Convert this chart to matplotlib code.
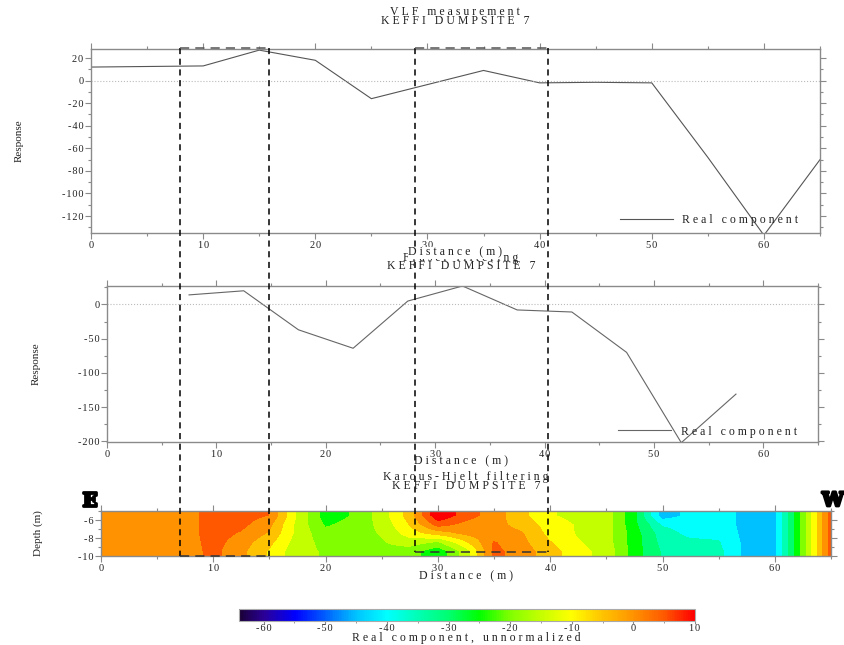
import numpy as np
import matplotlib
matplotlib.use("Agg")
import matplotlib.pyplot as plt
from matplotlib.colors import LinearSegmentedColormap, ListedColormap, BoundaryNorm, Normalize
from matplotlib.lines import Line2D
from matplotlib.ticker import MultipleLocator, FuncFormatter
from matplotlib.transforms import blended_transform_factory
import matplotlib.patheffects as pe
import matplotlib.cm as cm

plt.rcParams['font.family'] = ['Liberation Serif', 'DejaVu Serif']
plt.rcParams['axes.unicode_minus'] = False

# --- VLF raw real component ---
vlf_x = [0, 5, 10, 15, 20, 25, 30, 35, 40, 45, 50, 55, 60, 65]
vlf_real = [12, 12.5, 13, 27, 18, -16, -3.5, 9, -2, -1.5, -2, -68, -137, -70]

# --- Fraser filtered ---
fraser_x = [7.5, 12.5, 17.5, 22.5, 27.5, 32.5, 37.5, 42.5, 47.5, 52.5, 57.5]
fraser_real = [14, 20, -37, -64, 5, 27, -8, -11, -70, -202, -131]

# --- Karous-Hjelt section, nodes every 2.5 m from 0 to 65 m ---
kh_x0, kh_dx = 0, 2.5
kh_d55 = [0, 0, 0, 0, 5, 5, 2.5, -13, -25, -22, -15, -5, 12, 5, 0,
          -6, -12, -14, -15, -26, -45, -41, -40, -44, -44, -20, 5]
kh_d65 = [0, 0, 0, 0, 5, 4, -1, -14, -23, -21, -16, -7, 5, 1, -1,
          -4, -10, -13, -15, -26, -38, -40, -40, -44, -44, -20, 5]
kh_d75 = [0, 0, 0, 0, 5, 2, -3, -14, -21, -20, -17, -10, -5, -1, 0,
          -2, -9, -13, -15, -25, -35, -39, -39, -44, -44, -20, 5]
kh_d85 = [0, 0, 0, 0, 4.5, 0, -6, -15, -19, -19, -18, -15, -18, -8, 3,
          -1, -7, -12, -15, -25, -34, -36, -37, -44, -44, -20, 5]
kh_d95 = [0, 0, 0, 0, 4, -1, -8, -16, -18, -18, -19, -20, -26, -15, 4,
          0, -5, -11, -14, -25, -33, -34, -36, -44, -44, -20, 5]

# anomaly boxes (metres along profile)
boxes = [(7, 15), (28, 39.8)]

cmap_pts = [(-64, '#1a0036'), (-60, '#2a0098'), (-55, '#0000ff'), (-50, '#0060ff'),
            (-45, '#00c4ff'), (-40, '#00ffff'), (-35, '#00ffb4'), (-30, '#00ff70'),
            (-25, '#00ff00'), (-20, '#80ff00'), (-15, '#c4ff00'), (-10, '#ffff00'),
            (-5, '#ffc400'), (0, '#ff9400'), (5, '#ff5a00'), (10, '#ff0000')]
vmin, vmax = -64, 10
kh_cmap = LinearSegmentedColormap.from_list(
    'kh', [((v - vmin) / (vmax - vmin), c) for v, c in cmap_pts])
norm = Normalize(vmin, vmax)
levels = np.arange(-67.5, 15, 5)
centers = (levels[:-1] + levels[1:]) / 2
band_cmap = ListedColormap([kh_cmap(norm(c)) for c in centers])
band_norm = BoundaryNorm(levels, band_cmap.N)

W, H = 845, 645
fig = plt.figure(figsize=(W / 100, H / 100), dpi=100)
tc = '#222222'
SP = '\u2005'


def spaced(s):
    return SP.join(s)


tick_fmt = FuncFormatter(lambda v, p: '\u200a'.join('%g' % v))


def px_axes(l, t, r, b):
    return fig.add_axes([l / W, 1 - b / H, (r - l) / W, (b - t) / H])


def style(ax):
    for s in ax.spines.values():
        s.set_color('#8a8a8a')
        s.set_linewidth(1.0)
    ax.tick_params(which='both', direction='out', colors='#8a8a8a', labelcolor=tc,
                   labelsize=7.5, top=True, right=True, width=0.8, pad=1.5)
    ax.tick_params(which='major', length=4)
    ax.tick_params(which='minor', length=2.5)
    ax.xaxis.set_major_formatter(tick_fmt)
    ax.yaxis.set_major_formatter(tick_fmt)


def label(x, y, s, **kw):
    return fig.text(x / W, 1 - y / H, spaced(s), ha='center', va='center',
                    fontsize=8.5, color=tc, **kw)


# Panel 1
ax1 = px_axes(91, 49, 820, 233)
ax1.plot(vlf_x, vlf_real, color='#555555', lw=0.8, label=spaced('Real component'))
ax1.axhline(0, color='#bbbbbb', lw=0.8, ls=':')
ax1.set_xlim(0, 65)
ax1.set_ylim(-135, 28)
ax1.xaxis.set_major_locator(MultipleLocator(10))
ax1.xaxis.set_minor_locator(MultipleLocator(5))
ax1.yaxis.set_major_locator(MultipleLocator(20))
ax1.yaxis.set_minor_locator(MultipleLocator(10))
style(ax1)
ax1.set_ylabel('Response', fontsize=8, color=tc)
ax1.yaxis.set_label_coords(-0.093, 0.5)
ax1.legend(loc='lower right', frameon=False, fontsize=8.5, handlelength=4.5,
           bbox_to_anchor=(0.985, -0.02), labelcolor=tc)
label(455, 12, 'VLF measurement')
label(455, 21, 'KEFFI DUMPSITE 7')

# Panel 2
ax2 = px_axes(107, 286, 818, 442)
ax2.plot(fraser_x, fraser_real, color='#666666', lw=0.8, label=spaced('Real component'))
ax2.axhline(0, color='#bbbbbb', lw=0.8, ls=':')
ax2.set_xlim(0, 65)
ax2.set_ylim(-201, 27)
ax2.xaxis.set_major_locator(MultipleLocator(10))
ax2.xaxis.set_minor_locator(MultipleLocator(5))
ax2.yaxis.set_major_locator(MultipleLocator(50))
ax2.yaxis.set_minor_locator(MultipleLocator(25))
style(ax2)
ax2.set_ylabel('Response', fontsize=8, color=tc)
ax2.yaxis.set_label_coords(-0.093, 0.5)
ax2.legend(loc='lower right', frameon=False, fontsize=8.5, handlelength=4.5,
           bbox_to_anchor=(0.985, -0.04), labelcolor=tc)
label(461, 258, 'Fraser filtering')
label(461, 266, 'KEFFI DUMPSITE 7')
label(455, 252.5, 'Distance (m)', bbox=dict(facecolor='white', edgecolor='none', pad=0), zorder=5)
label(461, 461, 'Distance (m)')

# Panel 3
ax3 = px_axes(101, 511, 831, 556)
Z = np.array([kh_d55, kh_d65, kh_d75, kh_d85, kh_d95])
nx = Z.shape[1]
ax3.imshow(Z, cmap=band_cmap, norm=band_norm, interpolation='bilinear',
           interpolation_stage='data', aspect='auto', origin='upper',
           extent=(kh_x0 - kh_dx / 2, kh_x0 + kh_dx * (nx - 0.5), -10, -5))
ax3.set_xlim(0, 65)
ax3.set_ylim(-10, -5)
ax3.xaxis.set_major_locator(MultipleLocator(10))
ax3.xaxis.set_minor_locator(MultipleLocator(5))
ax3.yaxis.set_major_locator(MultipleLocator(2))
ax3.yaxis.set_minor_locator(MultipleLocator(1))
style(ax3)
ax3.set_ylabel('Depth (m)', fontsize=8, color=tc)
ax3.yaxis.set_label_coords(-0.079, 0.5)
label(466, 477, 'Karous-Hjelt filtering')
label(466, 486, 'KEFFI DUMPSITE 7')
label(466, 576, 'Distance (m)')
for x, s in ((90, 'E'), (833, 'W')):
    fig.text(x / W, 1 - 501 / H, s, ha='center', va='center', fontsize=14,
             fontweight='bold', family='DejaVu Serif', color='black',
             path_effects=[pe.withStroke(linewidth=2, foreground='black')])

# colorbar
cax = px_axes(239, 609, 695, 621)
cb = fig.colorbar(cm.ScalarMappable(norm=norm, cmap=kh_cmap), cax=cax, orientation='horizontal')
cb.set_ticks(np.arange(-60, 11, 10))
cb.ax.xaxis.set_major_formatter(tick_fmt)
cb.ax.xaxis.set_minor_locator(MultipleLocator(5))
cb.outline.set_edgecolor('#aaaaaa')
cb.ax.tick_params(which='both', colors='#8a8a8a', labelcolor=tc, labelsize=7.5, pad=0)
cb.ax.tick_params(which='major', length=2)
cb.ax.tick_params(which='minor', length=1.5)
label(466, 638, 'Real component, unnormalized')

# dashed anomaly boxes across the panels
tr = blended_transform_factory(ax3.transData, fig.transFigure)
y_top = 1 - 48 / H
bottoms = [1 - 555.5 / H, 1 - 552 / H]
for (x0, x1), yb in zip(boxes, bottoms):
    for xv in (x0, x1):
        fig.add_artist(Line2D([xv, xv], [y_top, yb], transform=tr, color='black',
                              lw=1.1, ls=(0, (4, 3))))
    fig.add_artist(Line2D([x0, x1], [y_top, y_top], transform=tr, color='#555555',
                          lw=1.1, ls=(0, (6, 4))))
    fig.add_artist(Line2D([x0, x1], [yb, yb], transform=tr, color='#333333',
                          lw=1.1, ls=(0, (6, 4))))

fig.savefig('out.png', dpi=100)
